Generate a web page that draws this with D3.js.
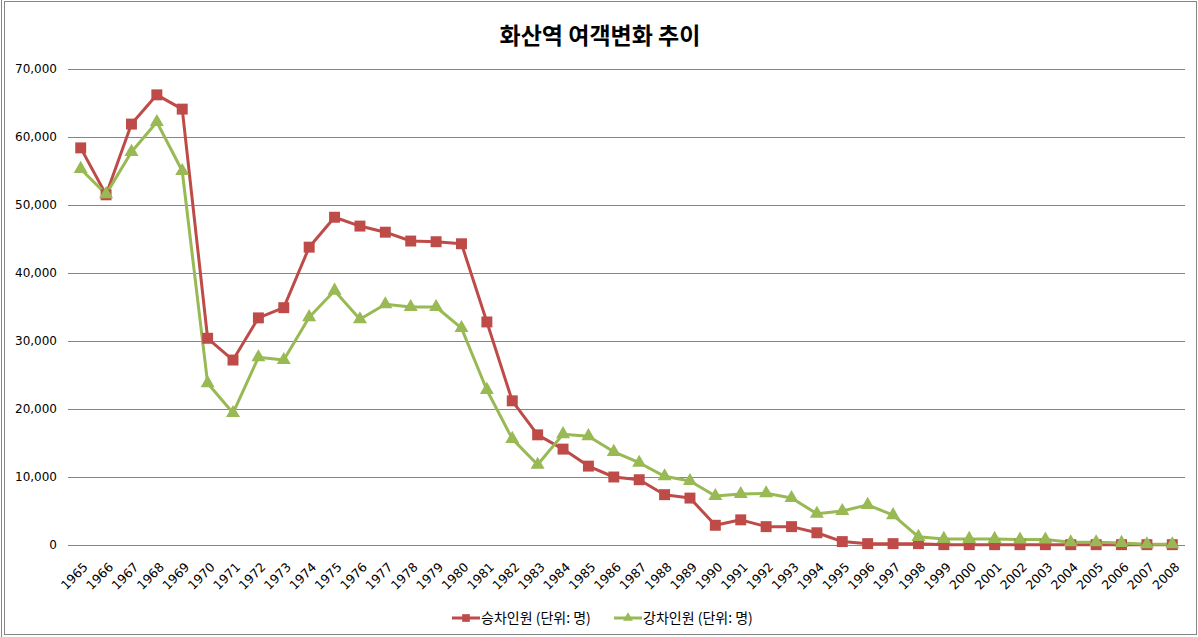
<!DOCTYPE html>
<html>
<head>
<meta charset="utf-8">
<script src="https://cdn.jsdelivr.net/npm/d3@7"></script>
<style>
  body { margin: 0; background: #fff; }
  text { font-family: "Noto Sans CJK KR", "DejaVu Sans", sans-serif; }
</style>
</head>
<body>
<svg id="chart" width="1198" height="637"></svg>
<script>
// 연도
var years = d3.range(1965, 2009).map(String);

// 승차인원 (단위: 명)
var boarding = [58400, 51500, 61900, 66200, 64100, 30400, 27200, 33400, 34900, 43800,
  48200, 46900, 46000, 44700, 44600, 44300, 32800, 21200, 16200, 14100,
  11600, 10000, 9600, 7400, 6900, 2900, 3700, 2700, 2700, 1800,
  500, 200, 200, 200, 50, 50, 50, 50, 50, 50,
  50, 50, 50, 50];

// 하차인원 (단위: 명)
var alighting = [55300, 51600, 57800, 62200, 55000, 23800, 19400, 27600, 27200, 33500,
  37400, 33200, 35400, 35000, 35000, 31900, 22800, 15600, 11800, 16300,
  16000, 13700, 12100, 10100, 9400, 7200, 7500, 7600, 6900, 4600,
  5000, 5900, 4400, 1200, 900, 900, 900, 800, 800, 400,
  400, 300, 100, 100];

var yTicks = [0, 10000, 20000, 30000, 40000, 50000, 60000, 70000];

var seriesNames = ["승차인원 (단위: 명)", "강차인원 (단위: 명)"];
var colors = ["#be4b48", "#98b954"];

var svg = d3.select("#chart");

// 바깥 테두리
svg.append("rect")
  .attr("x", 4.5).attr("y", 1.5)
  .attr("width", 1192).attr("height", 633)
  .attr("fill", "none")
  .attr("stroke", "#868686");
svg.append("line")
  .attr("x1", 1.5).attr("x2", 1.5).attr("y1", 0).attr("y2", 637)
  .attr("stroke", "#868686");

// 제목
svg.append("text")
  .attr("x", 600).attr("y", 44)
  .attr("text-anchor", "middle")
  .style("font-size", "23px")
  .style("font-weight", "bold")
  .text("화산역 여객변화 추이");

var plotLeft = 68, plotRight = 1185, plotTop = 69, plotBottom = 545;

var x = d3.scaleBand()
  .domain(years)
  .range([plotLeft, plotRight]);

var y = d3.scaleLinear()
  .domain([0, 70000])
  .range([plotBottom, plotTop]);

// 그리드
svg.append("g")
  .selectAll("line")
  .data(yTicks)
  .enter()
  .append("line")
  .attr("x1", plotLeft).attr("x2", plotRight)
  .attr("y1", function(d) { return Math.round(y(d)) + 0.5; })
  .attr("y2", function(d) { return Math.round(y(d)) + 0.5; })
  .attr("stroke", "#868686")
  .attr("stroke-width", 1);

// Y축
var yAxis = d3.axisLeft(y)
  .tickValues(yTicks)
  .tickFormat(d3.format(","))
  .tickSize(0)
  .tickPadding(11);

svg.append("g")
  .attr("transform", "translate(" + plotLeft + ",0)")
  .call(yAxis)
  .call(function(g) { g.select(".domain").remove(); })
  .selectAll("text")
  .style("font-size", "12px")
  .style("font-family", "'DejaVu Sans', sans-serif")
  .attr("fill", "#000");

// X축
var xAxis = d3.axisBottom(x).tickSize(0).tickPadding(0);

svg.append("g")
  .attr("transform", "translate(0," + plotBottom + ")")
  .call(xAxis)
  .call(function(g) { g.select(".domain").remove(); })
  .selectAll("text")
  .style("font-size", "12.5px")
  .style("font-family", "'DejaVu Sans', sans-serif")
  .attr("fill", "#000")
  .attr("text-anchor", "end")
  .attr("dy", null)
  .attr("y", 0)
  .attr("transform", "translate(8,23) rotate(-45)");

var line = d3.line()
  .x(function(d, i) { return x(years[i]) + x.bandwidth() / 2; })
  .y(function(d) { return y(d); });

var square = d3.symbol().type(d3.symbolSquare).size(120);
var triangle = d3.symbol().type(d3.symbolTriangle).size(85);

// 승차 / 하차 선
[boarding, alighting].forEach(function(vals, k) {
  svg.append("path")
    .datum(vals)
    .attr("d", line)
    .attr("fill", "none")
    .attr("stroke", colors[k])
    .attr("stroke-width", 3)
    .attr("stroke-linejoin", "round");
});

[boarding, alighting].forEach(function(vals, k) {
  svg.append("g")
    .selectAll("path")
    .data(vals)
    .enter()
    .append("path")
    .attr("d", k == 0 ? square() : triangle())
    .attr("fill", colors[k])
    .attr("transform", function(d, i) {
      return "translate(" + (x(years[i]) + x.bandwidth() / 2) + "," + y(d) + ")";
    });
});

// 범례
var legend = svg.append("g").attr("transform", "translate(452,618)");
var legendX = [0, 162];
seriesNames.forEach(function(name, k) {
  var g = legend.append("g").attr("transform", "translate(" + legendX[k] + ",0)");
  g.append("line")
    .attr("x1", 0).attr("x2", 28).attr("y1", 0).attr("y2", 0)
    .attr("stroke", colors[k]).attr("stroke-width", 3);
  g.append("path")
    .attr("d", k == 0 ? square() : triangle())
    .attr("fill", colors[k])
    .attr("transform", "translate(14,0) scale(0.7)");
  g.append("text")
    .attr("x", 29).attr("y", 5)
    .style("font-size", "14px")
    .text(name);
});
</script>
</body>
</html>
